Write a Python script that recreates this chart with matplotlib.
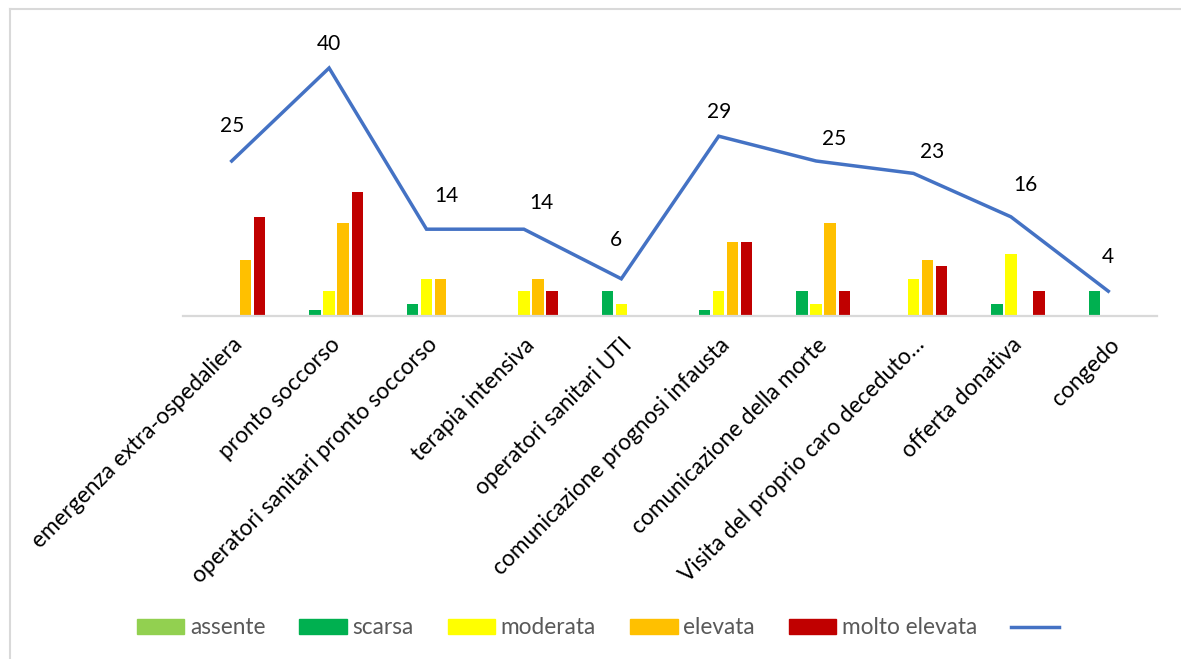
import numpy as np
import matplotlib.pyplot as plt
from matplotlib.lines import Line2D
from matplotlib.patches import Patch

plt.rcParams['font.family'] = ['Lato', 'DejaVu Sans']

# --- DATI ---
categorie = ["emergenza extra-ospedaliera", "pronto soccorso",
             "operatori sanitari pronto soccorso", "terapia intensiva",
             "operatori sanitari UTI", "comunicazione prognosi infausta",
             "comunicazione della morte", "Visita del proprio caro deceduto…",
             "offerta donativa", "congedo"]
livelli = ["assente", "scarsa", "moderata", "elevata", "molto elevata"]
assente = [0, 0, 0, 0, 0, 0, 0, 0, 0, 0]
scarsa = [0, 1, 2, 0, 4, 1, 4, 0, 2, 4]
moderata = [0, 4, 6, 4, 2, 4, 2, 6, 10, 0]
elevata = [9, 15, 6, 6, 0, 12, 15, 9, 0, 0]
molto_elevata = [16, 20, 0, 4, 0, 12, 4, 8, 4, 0]
totale = [25, 40, 14, 14, 6, 29, 25, 23, 16, 4]

# --- STILE ---
colori = ['#92D050', '#00B050', '#FFFF00', '#FFC000', '#C00000']
col_linea = '#4472C4'
# spostamento etichette (pixel) come nel grafico originale
off_lab = [(0, 35), (0, 24), (20, 33), (17, 26), (-5, 39),
           (0, 24), (18, 22), (19, 21), (14, 32), (0, 34)]

fig = plt.figure(figsize=(11.81, 6.59), dpi=100)
ax = fig.add_axes([183/1181, 1 - 316/659, (1157-183)/1181, (316-37)/659])

x = np.arange(len(categorie))
serie = [assente, scarsa, moderata, elevata, molto_elevata]
passo = 0.144
larg = 0.116
for i, (vals, c) in enumerate(zip(serie, colori)):
    ax.bar(x + (i - 2) * passo, vals, width=larg, color=c, zorder=2)

ax.plot(x, totale, color=col_linea, lw=2.5, zorder=3, solid_joinstyle='miter')
for xi, v, (dx, dy) in zip(x, totale, off_lab):
    ax.annotate(str(v), (xi, v), xytext=(dx * 0.72, dy * 0.72), textcoords='offset points',
                ha='center', va='center', fontsize=15, color='black')

ax.set_xlim(-0.5, len(categorie) - 0.5)
ax.set_ylim(0, 45)
ax.set_yticks([])
for s in ['top', 'right', 'left']:
    ax.spines[s].set_visible(False)
ax.spines['bottom'].set_color('#D9D9D9')
ax.spines['bottom'].set_linewidth(1.6)
ax.set_xticks(x)
ax.set_xticklabels(categorie, rotation=45, ha='right', va='top',
                   rotation_mode='anchor', fontsize=16.3)
ax.tick_params(axis='x', length=0, pad=13)

# legenda
handles = [Patch(color=c) for c in colori] + [Line2D([], [], color=col_linea, lw=2.5)]
etichette = livelli + ['']
fig.legend(handles, etichette, loc='center', bbox_to_anchor=(0.5085, 1 - 628/659),
           ncol=6, frameon=False, fontsize=16.3, labelcolor='#595959',
           handlelength=2.1, handleheight=0.6, handletextpad=0.25, columnspacing=1.5)

# cornice grafico
fig.add_artist(Line2D([10/1181, 10/1181], [0, 1 - 9/659], color='#D9D9D9', lw=1.5,
                      transform=fig.transFigure))
fig.add_artist(Line2D([10/1181, 1], [1 - 9/659, 1 - 9/659], color='#D9D9D9', lw=1.5,
                      transform=fig.transFigure))

fig.savefig('out.png', dpi=100)
